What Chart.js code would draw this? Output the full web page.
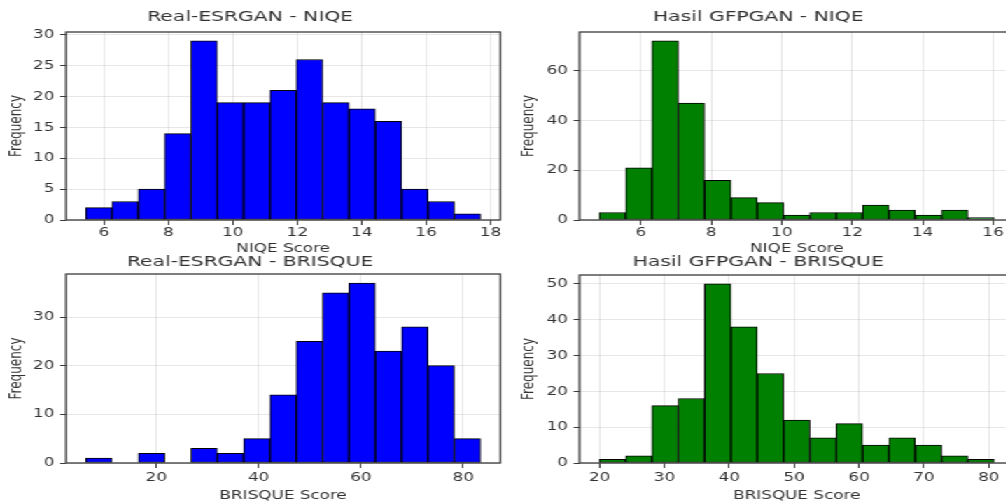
<!DOCTYPE html>
<html>
<head>
<meta charset="utf-8">
<script src="https://cdn.jsdelivr.net/npm/chart.js@4.4.1/dist/chart.umd.min.js"></script>
<style>
html, body { margin: 0; padding: 0; background: #fff; overflow: hidden; width: 1006px; height: 503px; }
#fig { position: absolute; left: 0; top: 0; width: 740px; height: 503px; transform: scaleX(1.4); transform-origin: 0 0; }
.panel { position: absolute; }
</style>
</head>
<body>
<div id="fig">
  <div class="panel" style="left:0px;top:0px"><canvas id="c1" width="360" height="258"></canvas></div>
  <div class="panel" style="left:359.3px;top:0px"><canvas id="c2" width="370" height="258"></canvas></div>
  <div class="panel" style="left:0px;top:245px"><canvas id="c3" width="360" height="258"></canvas></div>
  <div class="panel" style="left:359.3px;top:245px"><canvas id="c4" width="370" height="258"></canvas></div>
</div>
<script>
// histogram counts (15 bins each) and bin ranges
const esrganNiqeCounts = [2, 3, 5, 14, 29, 19, 19, 21, 26, 19, 18, 16, 5, 3, 1];
const esrganNiqeRange = [5.43, 17.69];
const gfpganNiqeCounts = [3, 21, 72, 47, 16, 9, 7, 2, 3, 3, 6, 4, 2, 4, 1];
const gfpganNiqeRange = [4.82, 16.03];
const esrganBrisqueCounts = [1, 0, 2, 0, 3, 2, 5, 14, 25, 35, 37, 23, 28, 20, 5];
const esrganBrisqueRange = [6.17, 83.4];
const gfpganBrisqueCounts = [1, 2, 16, 18, 50, 38, 25, 12, 7, 11, 5, 7, 5, 2, 1];
const gfpganBrisqueRange = [19.95, 80.84];

const FONT = "'DejaVu Sans', sans-serif";
const TXT = "#333";
const GRID = "rgba(176,176,176,0.3)";

// full box around the plot area, like matplotlib spines
const framePlugin = {
    id: "frame",
    afterDraw(chart) {
        const a = chart.chartArea;
        const ctx = chart.ctx;
        ctx.save();
        ctx.strokeStyle = "#3a3a3a";
        ctx.lineWidth = 1.3;
        ctx.strokeRect(a.left, a.top, a.right - a.left, a.bottom - a.top);
        ctx.restore();
    }
};

function binPoints(counts, range) {
    const w = (range[1] - range[0]) / counts.length;
    return counts.map((c, i) => ({ x: range[0] + (i + 0.5) * w, y: c }));
}

function makeHist(id, o) {
    const ctx = document.getElementById(id).getContext("2d");
    return new Chart(ctx, {
        type: "bar",
        data: {
            datasets: [{
                data: binPoints(o.counts, o.range),
                backgroundColor: o.color,
                borderColor: "#000",
                borderWidth: 1,
                borderSkipped: false,
                barPercentage: 1,
                categoryPercentage: 1,
            }],
        },
        options: {
            responsive: false,
            animation: false,
            layout: { padding: { left: 0, right: o.padRight, top: 0, bottom: 0 } },
            plugins: {
                legend: { display: false },
                tooltip: { enabled: false },
                title: {
                    display: true,
                    text: o.title,
                    color: TXT,
                    font: { family: FONT, size: 14.5, weight: "normal" },
                    padding: { top: o.titleTop, bottom: o.titleBottom },
                },
            },
            scales: {
                x: {
                    type: "linear",
                    offset: false,
                    min: o.xMin,
                    max: o.xMax,
                    z: 1,
                    grid: { offset: false, color: GRID, tickColor: "#3a3a3a", tickLength: 5 },
                    border: { display: false },
                    ticks: {
                        stepSize: o.xStep,
                        includeBounds: false,
                        autoSkip: false,
                        maxRotation: 0,
                        padding: o.xTickPad,
                        color: TXT,
                        font: { family: FONT, size: 12 },
                    },
                    title: {
                        display: true,
                        text: o.xLabel,
                        color: TXT,
                        font: { family: FONT, size: 12 },
                        padding: { top: 0, bottom: o.xTitlePad },
                    },
                    afterFit: (s) => { s.height = o.xH; },
                },
                y: {
                    min: 0,
                    max: o.yMax,
                    z: 1,
                    grid: { color: GRID, tickColor: "#3a3a3a", tickLength: 4.3 },
                    border: { display: false },
                    ticks: {
                        stepSize: o.yStep,
                        includeBounds: false,
                        padding: 4,
                        color: TXT,
                        font: { family: FONT, size: 12 },
                    },
                    title: {
                        display: true,
                        text: "Frequency",
                        color: TXT,
                        font: { family: FONT, size: 12 },
                        padding: { top: o.yTitlePad, bottom: 0 },
                    },
                    afterFit: (s) => { s.width = o.yW; },
                },
            },
        },
        plugins: [framePlugin],
    });
}

makeHist("c1", {
    title: "Real-ESRGAN - NIQE", xLabel: "NIQE Score", color: "#0000ff",
    counts: esrganNiqeCounts, range: esrganNiqeRange,
    xMin: 4.82, xMax: 18.30, xStep: 2, yMax: 30.45, yStep: 5,
    yW: 47.14, padRight: 2.6, yTitlePad: 4.9,
    titleTop: 8.3, titleBottom: 6.3, xH: 38, xTitlePad: 1.8, xTickPad: 1,
});
makeHist("c2", {
    title: "Hasil GFPGAN - NIQE", xLabel: "NIQE Score", color: "#008000",
    counts: gfpganNiqeCounts, range: gfpganNiqeRange,
    xMin: 4.26, xMax: 16.59, xStep: 2, yMax: 75.6, yStep: 20,
    yW: 55, padRight: 4.7, yTitlePad: 12.1,
    titleTop: 8.3, titleBottom: 6.3, xH: 38, xTitlePad: 1.8, xTickPad: 1,
});
makeHist("c3", {
    title: "Real-ESRGAN - BRISQUE", xLabel: "BRISQUE Score", color: "#0000ff",
    counts: esrganBrisqueCounts, range: esrganBrisqueRange,
    xMin: 2.31, xMax: 87.26, xStep: 20, yMax: 38.85, yStep: 10,
    yW: 47.14, padRight: 2.6, yTitlePad: 4.9,
    titleTop: 8.3, titleBottom: 3.3, xH: 40, xTitlePad: 0, xTickPad: 3,
});
makeHist("c4", {
    title: "Hasil GFPGAN - BRISQUE", xLabel: "BRISQUE Score", color: "#008000",
    counts: gfpganBrisqueCounts, range: gfpganBrisqueRange,
    xMin: 16.91, xMax: 83.88, xStep: 10, yMax: 52.5, yStep: 10,
    yW: 55, padRight: 4.7, yTitlePad: 12.1,
    titleTop: 8.3, titleBottom: 4.3, xH: 40, xTitlePad: 0, xTickPad: 3,
});
</script>
</body>
</html>
